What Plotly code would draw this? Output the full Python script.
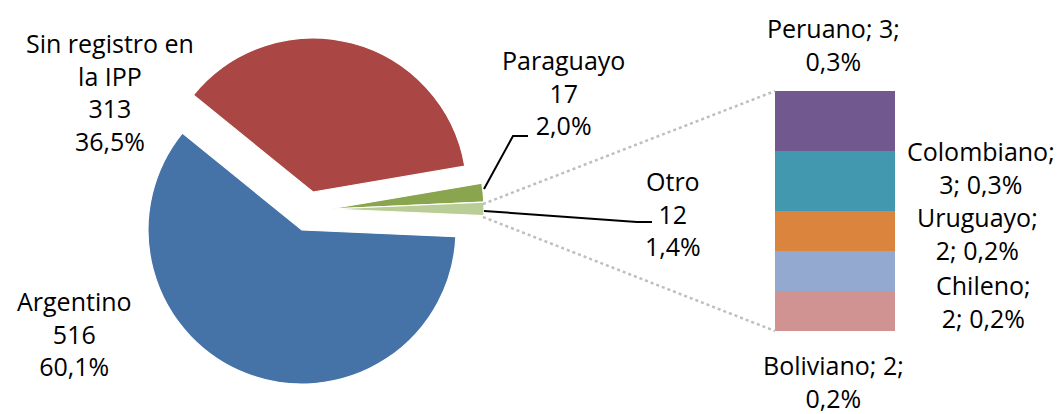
import plotly.graph_objects as go

W, H = 1059, 414

# ---- data ----
pie_labels = ["Sin registro en la IPP", "Paraguayo", "Otro", "Argentino"]
pie_display = ["Sin registro en<br>la IPP", "Paraguayo", "Otro", "Argentino"]
pie_values = [313, 17, 12, 516]
pie_colors = ["#AA4643", "#89A54E", "#B9CD96", "#4572A7"]

bar_labels = ["Boliviano", "Chileno", "Uruguayo", "Colombiano", "Peruano"]
bar_values = [2, 2, 2, 3, 3]
bar_colors = ["#D19392", "#93A9CF", "#DB843D", "#4198AF", "#71588F"]

total = sum(pie_values)


def pct(v):
    return f"{v / total * 100:.1f}".replace(".", ",") + "%"


def px(x):
    return x / W


def py(y):
    return 1 - y / H


fig = go.Figure()

# pie drawn as three groups so exploded slices sit where they do in the original
R = 154
groups = [
    (["Argentino"], (302, 230)),
    (["Sin registro en la IPP"], (313, 192)),          # exploded
    (["Otro", "Paraguayo"], (330, 209)),               # exploded
]
for names, (cx, cy) in groups:
    cols = [c if l in names else "rgba(0,0,0,0)" for l, c in zip(pie_labels, pie_colors)]
    lw = [1.2 if l in names else 0 for l in pie_labels]
    fig.add_trace(go.Pie(
        labels=pie_labels, values=pie_values, sort=False,
        direction="clockwise", rotation=-51,
        marker=dict(colors=cols, line=dict(color="white", width=lw)),
        textinfo="none", hoverinfo="skip", showlegend=False,
        domain=dict(x=[px(cx - R), px(cx + R)], y=[py(cy + R), py(cy - R)]),
    ))

# stacked bar for the "Otro" breakdown
for lab, val, col in zip(bar_labels, bar_values, bar_colors):
    fig.add_trace(go.Bar(
        x=[0], y=[val], width=[1], name=lab,
        marker=dict(color=col, line=dict(width=0)),
        hoverinfo="skip", showlegend=False,
    ))

font = dict(family="Open Sans", size=25, color="black")

# pie labels
pie_label_pos = {
    "Argentino": (74, 333),
    "Otro": (673, 214),
    "Paraguayo": (563, 92),
    "Sin registro en la IPP": (110, 92),
}
for lab, disp, val in zip(pie_labels, pie_display, pie_values):
    x, y = pie_label_pos[lab]
    fig.add_annotation(
        x=px(x), y=py(y), xref="paper", yref="paper",
        text=f"{disp}<br>{val}<br>{pct(val)}",
        showarrow=False, xanchor="center", yanchor="middle", font=font,
    )

# bar labels
bar_label_text = {
    "Peruano": lambda v: f"Peruano; {v};<br>{pct(v)}",
    "Colombiano": lambda v: f"Colombiano;<br>{v}; {pct(v)}",
    "Uruguayo": lambda v: f"Uruguayo;<br>{v}; {pct(v)}",
    "Chileno": lambda v: f"Chileno;<br>{v}; {pct(v)}",
    "Boliviano": lambda v: f"Boliviano; {v};<br>{pct(v)}",
}
bar_label_pos = {
    "Peruano": (833, 44),
    "Colombiano": (981, 167),
    "Uruguayo": (977, 234),
    "Chileno": (983, 301),
    "Boliviano": (833, 381),
}
for lab, val in zip(bar_labels, bar_values):
    x, y = bar_label_pos[lab]
    fig.add_annotation(
        x=px(x), y=py(y), xref="paper", yref="paper",
        text=bar_label_text[lab](val),
        showarrow=False, xanchor="center", yanchor="middle", font=font,
    )

# connector lines
shapes = [
    dict(type="line", xref="paper", yref="paper",
         x0=px(483), y0=py(204), x1=px(775), y1=py(91),
         line=dict(color="#BFBFBF", width=2.5, dash="dot")),
    dict(type="line", xref="paper", yref="paper",
         x0=px(483), y0=py(217), x1=px(775), y1=py(331),
         line=dict(color="#BFBFBF", width=2.5, dash="dot")),
    dict(type="path", xref="paper", yref="paper",
         path=f"M {px(484)} {py(189)} L {px(513)} {py(136)} L {px(528)} {py(136)}",
         line=dict(color="black", width=2)),
    dict(type="path", xref="paper", yref="paper",
         path=f"M {px(484)} {py(211)} L {px(637)} {py(222)} L {px(652)} {py(222)}",
         line=dict(color="black", width=2)),
]

fig.update_layout(
    width=W, height=H,
    margin=dict(l=0, r=0, t=0, b=0),
    paper_bgcolor="white", plot_bgcolor="white",
    barmode="stack",
    xaxis=dict(domain=[px(775), px(895)], range=[-0.5, 0.5], visible=False),
    yaxis=dict(domain=[py(331), py(91)], range=[0, sum(bar_values)], visible=False),
    shapes=shapes,
    showlegend=False,
)

fig.write_html("out.html", config={"displayModeBar": False},
               post_script="document.body.style.margin='0';")
